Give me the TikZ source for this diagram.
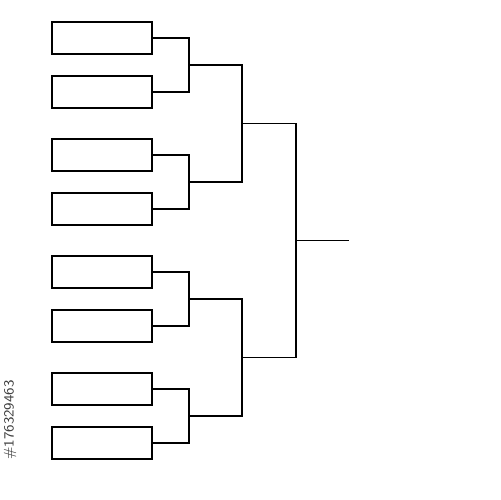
\documentclass[tikz,border=0pt]{standalone}
\usepackage{tikz}
\usetikzlibrary{calc}

\tikzset{
    teambox/.style={draw=black, line width=1.1pt, fill=white, minimum width=2cm, minimum height=0.64cm, inner sep=0pt},
    bline/.style={line width=1.1pt}
}

\begin{document}
\begin{tikzpicture}[x=0.02cm, y=-0.02cm]
    \useasboundingbox (0,0) rectangle (500,500);

    \foreach \i/\y in {1/38,2/92,3/155,4/209,5/272,6/326,7/389,8/443}{
        \node[teambox](t\i) at (102, \y) {};
    }

    \coordinate (q1) at (189, 65);
    \coordinate (q2) at (189, 182);
    \coordinate (q3) at (189, 299);
    \coordinate (q4) at (189, 416);
    \coordinate (s1) at (242, 123.5);
    \coordinate (s2) at (242, 357.5);
    \coordinate (fin) at (296, 240.5);
    \coordinate (win) at (349, 240.5);

    \foreach \a/\b/\q in {1/2/1, 3/4/2, 5/6/3, 7/8/4}{
        \draw[bline](t\a.east) -| (q\q) |- (t\b.east);
    }
    \draw[bline](q1) -| (s1) |- (q2);
    \draw[bline](q3) -| (s2) |- (q4);
    \draw[bline](s1) -| (fin) |- (s2);
    \draw[bline](fin) -- (win);

    \node[rotate=90, font=\sffamily\fontsize{8}{8}\selectfont, text=black!75](stockid) at (10, 420) {\#176329463};
\end{tikzpicture}
\end{document}
